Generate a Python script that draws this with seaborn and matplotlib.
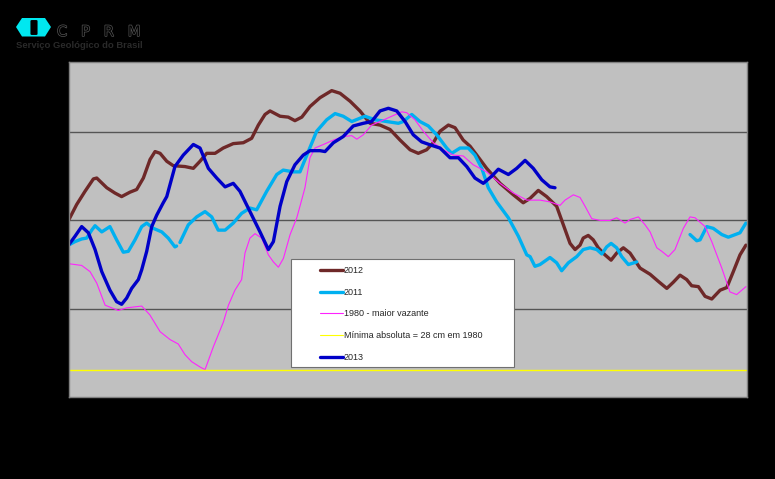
import matplotlib
matplotlib.use("Agg")
import matplotlib.pyplot as plt
import matplotlib.patches as mpatches
import matplotlib.patheffects as pe
from matplotlib.lines import Line2D
import numpy as np
import pandas as pd
import seaborn as sns

# ---------------- data (day of year, level in cm) ----------------
dias_2012 = [0, 4.4, 8.9, 13.4, 15.2, 20.6, 25.0, 28.6, 33.1, 36.7, 40.3, 43.9, 46.6, 49.3, 52.9, 56.4,
             62.7, 67.2, 70.8, 74.4, 78.9, 83.3, 88.7, 94.1, 98.6, 102.2, 105.8, 108.5, 113.9, 118.3,
             121.9, 125.6, 130.0, 135.4, 141.7, 146.2, 151.6, 156.9, 162.3, 167.7, 173.1, 178.5,
             183.9, 188.3, 192.8, 196.4, 200.0, 204.5, 208.1, 212.5, 216.2, 219.8, 225.1, 232.3,
             239.5, 244.8, 248.5, 252.9, 257.4, 262.8, 266.4, 270.0, 272.7, 275.4, 277.1, 279.8,
             282.5, 285.2, 288.8, 292.1, 295.1, 298.7, 302.3, 307.7, 313.1, 317.5, 322.1, 325.6,
             329.2, 332.8, 335.5, 339.1, 342.7, 346.3, 350.8, 354.4, 357.9, 361.5, 364.7]
cota_2012 = [200, 218, 233, 247, 248, 237, 231, 227, 232, 235, 248, 269, 278, 276, 267, 262,
             261, 259, 267, 276, 276, 282, 287, 288, 293, 308, 320, 324, 318, 317,
             313, 317, 329, 339, 347, 344, 335, 324, 310, 308, 303, 291,
             280, 276, 280, 288, 301, 308, 305, 291, 284, 274, 259, 242,
             229, 220, 225, 234, 227, 216, 195, 174, 167, 172, 180, 183,
             178, 169, 161, 155, 163, 169, 163, 146, 139, 131, 123, 130,
             138, 133, 126, 125, 114, 111, 121, 124, 142, 161, 172]

dias_2011_a = [0, 3.5, 7.1, 9.8, 12.5, 14.3, 17.9, 22.3, 25.9, 29.5, 32.2, 35.8, 39.4, 42.1, 45.7,
               50.2, 53.7, 57.3, 58.2]
cota_2011_a = [172, 176, 179, 180, 189, 194, 187, 193, 178, 164, 165, 178, 193, 197, 191,
               187, 180, 170, 171]
dias_2011_b = [60.0, 64.5, 69.0, 73.5, 77.1, 80.6, 84.3, 88.7, 93.2, 97.7, 101.3, 106.7, 112.1,
               115.6, 121.0, 124.6, 129.1, 133.6, 139.0, 143.5, 147.9, 152.5, 159.6, 165.0, 171.3,
               177.6, 180.2, 184.8, 189.2, 193.7, 198.2, 203.6, 206.3, 210.8, 215.2, 218.8, 222.5,
               226.0, 230.5, 236.8, 242.2, 246.7, 248.5, 251.1, 253.8, 259.2, 262.8, 265.5, 269.1,
               273.6, 277.1, 280.8, 284.4, 287.1, 289.7, 292.1, 295.1, 297.8, 301.4, 305.9]
cota_2011_b = [175, 195, 204, 210, 204, 189, 189, 197, 208, 214, 212, 233, 252,
               257, 255, 255, 278, 301, 314, 321, 318, 312, 318, 314, 312,
               310, 312, 320, 312, 307, 297, 282, 276, 282, 282, 274, 259,
               237, 221, 203, 182, 161, 159, 148, 150, 158, 152, 143, 152,
               159, 167, 169, 167, 162, 170, 174, 169, 159, 150, 153]
dias_2011_c = [334.6, 338.2, 340.0, 343.6, 347.1, 351.7, 355.2, 361.5, 364.7]
cota_2011_c = [184, 177, 178, 193, 191, 184, 181, 186, 197]

dias_1980 = [0, 7.1, 11.6, 15.2, 19.7, 26.8, 31.3, 39.4, 43.8, 49.3, 54.7, 59.1, 62.7, 66.3, 70.8,
             73.5, 78.0, 83.4, 86.1, 89.6, 93.2, 95.0, 97.7, 100.4, 104.0, 107.6, 110.3, 113.0,
             115.7, 119.3, 122.9, 124.6, 127.3, 130.0, 132.7, 137.2, 142.6, 147.9, 152.5, 155.2,
             158.7, 163.2, 167.7, 174.0, 179.4, 182.1, 186.5, 191.0, 196.4, 201.8, 207.2, 212.5,
             217.9, 225.1, 232.3, 239.5, 246.7, 253.8, 259.2, 264.6, 267.3, 271.8, 275.4, 278.1,
             281.7, 286.2, 291.5, 295.1, 299.6, 302.3, 306.8, 310.4, 313.1, 316.7, 319.4, 322.9,
             326.5, 331.0, 334.6, 337.3, 342.7, 346.3, 351.7, 356.1, 359.7, 364.7]
cota_1980 = [151, 149, 142, 129, 104, 98, 101, 103, 93, 74, 65, 60, 48, 40, 34,
             31, 57, 85, 104, 121, 133, 163, 180, 185, 180, 161, 153, 147,
             157, 184, 203, 216, 237, 271, 282, 286, 291, 295, 296, 292,
             297, 308, 312, 318, 323, 322, 314, 301, 288, 280, 274, 273,
             263, 255, 242, 231, 223, 223, 221, 217, 223, 229, 226, 216,
             202, 200, 200, 203, 197, 201, 204, 195, 187, 169, 165, 159,
             167, 191, 204, 203, 193, 176, 146, 119, 116, 125]

dias_2013 = [0, 3.5, 7.1, 10.7, 14.3, 17.9, 22.3, 25.9, 28.6, 31.3, 34.0, 37.6, 39.4, 42.1, 44.8,
             47.5, 51.0, 52.9, 57.3, 61.8, 67.2, 70.8, 75.3, 79.8, 84.3, 88.7, 92.3, 97.7, 103.1,
             107.6, 110.3, 113.9, 117.5, 121.9, 126.4, 130.0, 135.4, 138.1, 142.6, 147.9, 153.3,
             158.7, 163.2, 167.7, 172.2, 176.7, 181.2, 185.6, 190.1, 195.5, 200.0, 205.4, 209.9,
             214.4, 218.8, 223.3, 227.8, 231.4, 236.8, 241.3, 245.8, 250.2, 254.8, 259.2, 261.9]
cota_2013 = [172, 182, 193, 186, 167, 142, 121, 108, 105, 112, 123, 133, 144, 165, 193,
             206, 220, 227, 261, 274, 286, 282, 259, 248, 238, 242, 233, 210, 187,
             167, 176, 216, 244, 263, 274, 279, 279, 278, 288, 295, 307,
             310, 312, 324, 327, 324, 312, 297, 289, 285, 282, 271, 271,
             261, 248, 242, 250, 258, 252, 259, 268, 259, 246, 238, 237]

MINIMA_1980 = 31

rotulos = ["2012", "2011", "1980 - maior vazante", "Mínima absoluta = 28 cm em 1980", "2013"]
cores = ["#6E2828", "#00B0F0", "#FF22FF", "#FFFF00", "#0000C8"]

# ---------------- frames ----------------
df12 = pd.DataFrame({"dia": dias_2012, "cota": cota_2012})
df11 = pd.concat([
    pd.DataFrame({"dia": dias_2011_a, "cota": cota_2011_a, "trecho": 0}),
    pd.DataFrame({"dia": dias_2011_b, "cota": cota_2011_b, "trecho": 1}),
    pd.DataFrame({"dia": dias_2011_c, "cota": cota_2011_c, "trecho": 2}),
], ignore_index=True)
df80 = pd.DataFrame({"dia": dias_1980, "cota": cota_1980})
df13 = pd.DataFrame({"dia": dias_2013, "cota": cota_2013})

sns.set_style("white")
plt.rcParams["font.family"] = ["Liberation Sans", "DejaVu Sans"]

W, H = 775, 479
fig = plt.figure(figsize=(W / 100, H / 100), dpi=100)
fig.patch.set_facecolor("black")
ax = fig.add_axes([68.5 / W, 1 - 397 / H, 678 / W, 335.5 / H])
ax.set_facecolor("#C0C0C0")

LW = 2.4
sns.lineplot(data=df12, x="dia", y="cota", color=cores[0], lw=LW, ax=ax, sort=False,
             estimator=None, legend=False, zorder=2)
sns.lineplot(data=df11, x="dia", y="cota", units="trecho", color=cores[1], lw=LW, ax=ax,
             sort=False, estimator=None, legend=False, zorder=2)
sns.lineplot(data=df80, x="dia", y="cota", color=cores[2], lw=0.8, ax=ax, sort=False,
             estimator=None, legend=False, zorder=2)
ax.axhline(MINIMA_1980, color=cores[3], lw=1.0, zorder=2)
sns.lineplot(data=df13, x="dia", y="cota", color=cores[4], lw=LW, ax=ax, sort=False,
             estimator=None, legend=False, zorder=2)

ax.set_xlim(0, 365)
ax.set_ylim(0, 380)
ax.set_xticks(np.arange(0, 351, 14))
ax.set_yticks([100, 200, 300])
ax.yaxis.grid(True, color="#555555", lw=1.0)
ax.xaxis.grid(False)
ax.set_axisbelow(True)
ax.set_xlabel("")
ax.set_ylabel("")
ax.tick_params(axis="x", direction="out", length=3, width=0.8, color="#808080", labelbottom=False)
ax.tick_params(axis="y", length=0, labelleft=False)
for s in ax.spines.values():
    s.set_color("#808080")
    s.set_linewidth(1.0)

# legend box
ax.add_patch(mpatches.Rectangle((0.328, 0.0885), 0.329, 0.3235, transform=ax.transAxes,
                                facecolor="white", edgecolor="#707070", lw=0.8, zorder=4))
handles = [Line2D([], [], color=cores[0], lw=LW),
           Line2D([], [], color=cores[1], lw=LW),
           Line2D([], [], color=cores[2], lw=0.8),
           Line2D([], [], color=cores[3], lw=0.8),
           Line2D([], [], color=cores[4], lw=LW)]
leg = ax.legend(handles, rotulos, loc="upper left", bbox_to_anchor=(0.3636, 0.404),
                frameon=False, borderpad=0, handlelength=2.6, handletextpad=0.1,
                labelspacing=1.41, prop={"family": "Liberation Sans", "size": 6.5})
leg.set_zorder(5)

# logo
hexa = [(16, 27), (22, 18), (45, 18), (51, 27), (45, 36.5), (22, 36.5)]
fig.add_artist(mpatches.Polygon([(x / W, 1 - y / H) for x, y in hexa], closed=True,
                                transform=fig.transFigure, facecolor="#00E8F0", edgecolor="none"))
fig.add_artist(mpatches.FancyBboxPatch((32 / W, 1 - 34 / H), 4 / W, 13 / H,
                                       boxstyle="round,pad=0.002", transform=fig.transFigure,
                                       facecolor="black", edgecolor="none"))
fig.text(57 / W, 1 - 36 / H, "C   P   R   M", color="black", fontsize=10.5, family="DejaVu Sans",
         va="baseline", path_effects=[pe.withStroke(linewidth=1.0, foreground="#555555")])
fig.text(16 / W, 1 - 47.5 / H, "Serviço Geológico do Brasil", color="#2a2a2a", fontsize=6.8,
         weight="bold", family="Liberation Sans", va="baseline")

fig.savefig("out.png", dpi=100, facecolor="black")
